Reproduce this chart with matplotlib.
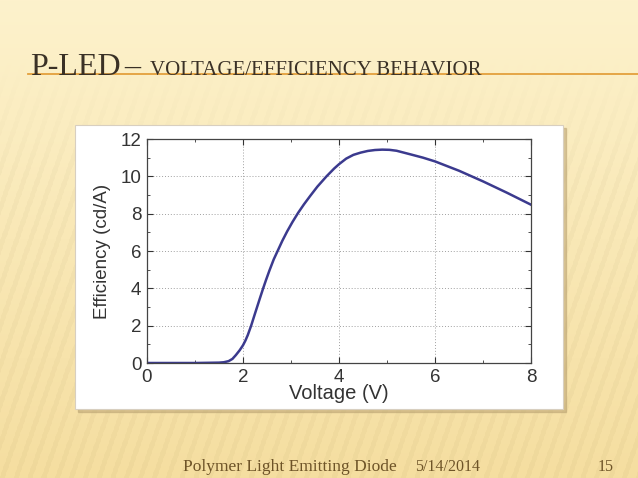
import matplotlib.pyplot as plt
import numpy as np
from matplotlib.patches import Rectangle

# values
voltage = [0.0, 1.0, 1.5, 1.6, 1.7, 1.78, 1.85, 1.93, 2.0, 2.05, 2.1, 2.17, 2.25, 2.35,
           2.42, 2.48, 2.55, 2.64, 2.73, 2.82, 2.92, 3.03, 3.15, 3.27, 3.4, 3.55,
           3.74, 3.9, 4.0, 4.15, 4.3, 4.45, 4.6, 4.75, 4.9, 5.05, 5.2, 5.5, 5.75,
           6.0, 6.5, 7.0, 7.5, 8.0]
efficiency = [0.0, 0.0, 0.02, 0.04, 0.1, 0.22, 0.42, 0.68, 0.95, 1.2, 1.5, 2.0, 2.65, 3.45,
              4.0, 4.45, 4.95, 5.55, 6.05, 6.55, 7.05, 7.55, 8.05, 8.5, 8.95, 9.45,
              10.0, 10.42, 10.65, 10.95, 11.15, 11.27, 11.36, 11.41, 11.43, 11.42, 11.37, 11.17, 11.0,
              10.8, 10.3, 9.73, 9.12, 8.48]
x_ticks = [0, 2, 4, 6, 8]
y_ticks = [0, 2, 4, 6, 8, 10, 12]

title_big = "P-LED"
title_small = "VOLTAGE/EFFICIENCY BEHAVIOR"
footer_left = "Polymer Light Emitting Diode"
footer_date = "5/14/2014"
footer_page = "15"

W, H = 638, 478
fig = plt.figure(figsize=(W / 100, H / 100), dpi=100)

# slide background: cream gradient with faint stripes
bg = fig.add_axes([0, 0, 1, 1])
bg.set_xlim(0, W)
bg.set_ylim(H, 0)
bg.axis("off")
top = np.array([253, 242, 204]) / 255
bot = np.array([245, 222, 160]) / 255
t = np.linspace(0, 1, 240)[:, None, None]
grad = top * (1 - t) + bot * t
cols = np.arange(W)[None, :]
rows = np.linspace(0, H, 240)[:, None]
stripe = (np.sin((cols + rows * 0.35) / 2.2) > 0.4).astype(float)[:, :, None]
fade = np.clip((t - 0.12) * 4, 0, 1)
img = np.clip(grad - 0.022 * stripe * fade, 0, 1)
bg.imshow(img, extent=[0, W, H, 0], aspect="auto", zorder=0)

# title
tc = "#3a3126"
bg.text(30, 75, title_big, fontsize=23, family="Liberation Serif",
        color=tc, va="baseline", zorder=3)
bg.text(124, 75, "\u2013", fontsize=23, family="Liberation Serif",
        color=tc, va="baseline", zorder=3)
bg.text(150, 75, title_small, fontsize=15, family="Liberation Serif",
        color=tc, va="baseline", zorder=3)
bg.plot([28, W], [74, 74], color="#e3a03c", lw=1.3, zorder=2)

# footer
fc = "#6e5428"
bg.text(183, 471, footer_left, fontsize=12.5, family="Liberation Serif",
        color=fc, va="baseline")
bg.text(415, 471, footer_date, fontsize=11.5, family="Liberation Serif",
        color=fc, va="baseline")
bg.text(598, 471, footer_page, fontsize=11.5, family="Liberation Serif",
        color=fc, va="baseline")

# white picture frame with shadow
bg.add_patch(Rectangle((78, 128), 488, 284, color="#b8a070", alpha=0.5, zorder=1))
bg.add_patch(Rectangle((75, 125), 488, 284, facecolor="white", edgecolor="#d8cfc0",
                       lw=0.8, zorder=2))

# chart
ax = fig.add_axes([147 / W, 1 - 363 / H, (531 - 147) / W, (363 - 139) / H])
ax.plot(voltage, efficiency, color="#3b3a8e", lw=1.8)
ax.set_xlim(0, 8)
ax.set_ylim(0, 12)
ax.set_xticks(x_ticks)
ax.set_yticks(y_ticks)
ax.set_xticks([1, 3, 5, 7], minor=True)
ax.set_yticks([1, 3, 5, 7, 9, 11], minor=True)
ax.grid(True, which="major", ls=(0, (1, 2)), color="#a0a0a0", lw=0.7)
ax.tick_params(which="both", direction="in", top=True, right=True,
               labelsize=13.5, colors="#333333")
ax.tick_params(axis="x", which="major", pad=4)
ax.tick_params(axis="y", which="major", pad=4)
ax.tick_params(which="major", length=4)
ax.tick_params(which="minor", length=2.5)
for lab in ax.get_xticklabels() + ax.get_yticklabels():
    lab.set_family("Liberation Sans")
for sp in ax.spines.values():
    sp.set_color("#444444")
    sp.set_linewidth(0.9)
ax.set_xlabel("Voltage (V)", fontsize=14.5, family="Liberation Sans",
              color="#333333", labelpad=-1)
ax.set_ylabel("Efficiency (cd/A)", fontsize=13.5, family="Liberation Sans",
              color="#333333", labelpad=7)

fig.savefig("out.png", dpi=100)
